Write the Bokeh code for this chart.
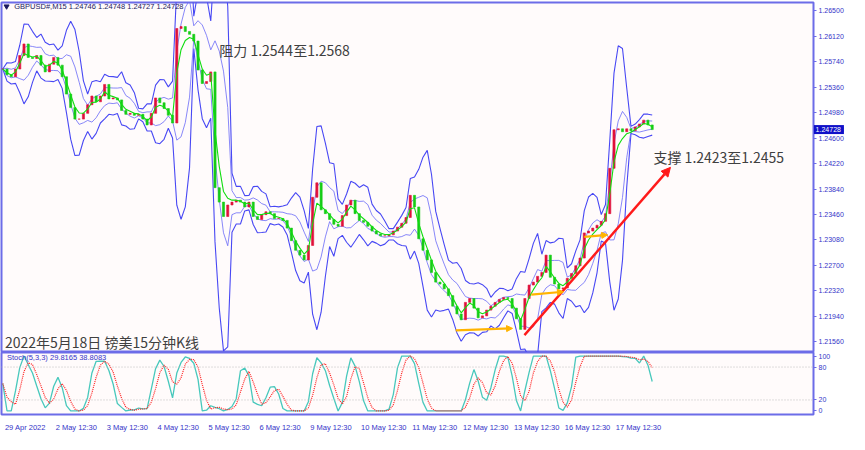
import numpy as np
import pandas as pd
from bokeh.plotting import figure
from bokeh.layouts import column
from bokeh.models import (Range1d, FixedTicker, PrintfTickFormatter, Label, Span,
                          Arrow, NormalHead, ColumnDataSource)
from bokeh.core.properties import value
from bokeh.embed import file_html
from bokeh.resources import INLINE

# ---------------- data (~2h steps) ----------------
CLOSE = [
    1.25632, 1.25546, 1.25517, 1.25632, 1.25834, 1.26006, 1.25805, 1.25790, 1.25834, 1.25690,
    1.25589, 1.25704, 1.25805, 1.25690, 1.25517, 1.25258, 1.25056, 1.24884, 1.24884, 1.24970,
    1.25099, 1.25229, 1.25143, 1.25229, 1.25402, 1.25186, 1.25200, 1.25171, 1.25013, 1.24955,
    1.24970, 1.24941, 1.24955, 1.24884, 1.24797, 1.24970, 1.25200, 1.25128, 1.25042, 1.24941,
    1.24826, 1.26237, 1.26265, 1.26193, 1.26150, 1.26049, 1.25618, 1.25416, 1.25445, 1.25589,
    1.23861, 1.23645, 1.23430, 1.23602, 1.23645, 1.23674, 1.23645, 1.23573, 1.23645, 1.23430,
    1.23386, 1.23458, 1.23501, 1.23473, 1.23401, 1.23401, 1.23372, 1.23257, 1.23070, 1.22926,
    1.22854, 1.22782, 1.22998, 1.23717, 1.23933, 1.23530, 1.23473, 1.23386, 1.23314, 1.23285,
    1.23444, 1.23602, 1.23674, 1.23473, 1.23372, 1.23343, 1.23285, 1.23213, 1.23170, 1.23142,
    1.23142, 1.23156, 1.23213, 1.23271, 1.23329, 1.23415, 1.23746, 1.23573, 1.23098, 1.22926,
    1.22782, 1.22595, 1.22451, 1.22422, 1.22350, 1.22249, 1.22091, 1.21976, 1.21889, 1.22148,
    1.22206, 1.22062, 1.21918, 1.21947, 1.22033, 1.22091, 1.22148, 1.22192, 1.22220, 1.22206,
    1.22062, 1.21904, 1.21745, 1.22206, 1.22407, 1.22451, 1.22537, 1.22595, 1.22854, 1.22523,
    1.22422, 1.22350, 1.22364, 1.22508, 1.22580, 1.22695, 1.22810, 1.23185, 1.23213, 1.23257,
    1.23300, 1.23358, 1.23473, 1.24149, 1.24725, 1.24739, 1.24696, 1.24739, 1.24710, 1.24768,
    1.24811, 1.24869, 1.24797, 1.24728,
]

PRICE_TICKS = [1.21560, 1.21940, 1.22320, 1.22700, 1.23080, 1.23460, 1.23840,
               1.24220, 1.24600, 1.24980, 1.25360, 1.25740, 1.26120, 1.26500]
DATE_TICKS = [0, 12, 24, 36, 48, 60, 72, 84, 96, 108, 120, 132, 144]
DATE_LABELS = ["29 Apr 2022", "2 May 12:30", "3 May 12:30", "4 May 12:30", "5 May 12:30",
               "6 May 12:30", "9 May 12:30", "10 May 12:30", "11 May 12:30", "12 May 12:30",
               "13 May 12:30", "16 May 12:30", "17 May 12:30"]
STOCH_TICKS = [0, 20, 80, 100]
LAST_PRICE = 1.24728
HEADER = "GBPUSD#,M15  1.24746 1.24748 1.24727 1.24728"
STOCH_TEXT = "Stoch(5,3,3) 29.8165 38.8083"

# ---------------- derived series ----------------
close = np.array(CLOSE)
n = len(close)
idx = np.arange(n)
opens = np.r_[close[0], close[:-1]]
s = pd.Series(close)
mid = s.rolling(5, min_periods=1).mean()
sd = s.rolling(5, min_periods=1).std(ddof=0).fillna(0)
up_out, lo_out = mid + 3.2 * sd, mid - 3.2 * sd
up_in, lo_in = mid + 1.3 * sd, mid - 1.3 * sd
ma = s.ewm(span=3).mean()

lo_k = s.rolling(5, min_periods=1).min()
hi_k = s.rolling(5, min_periods=1).max()
num = (s - lo_k).rolling(3, min_periods=1).sum()
den = (hi_k - lo_k).rolling(3, min_periods=1).sum().replace(0, np.nan)
k = (100 * num / den).fillna(50)
d = k.rolling(3, min_periods=1).mean()

up = close >= opens
src = ColumnDataSource(dict(
    x=idx, top=np.maximum(opens, close), bottom=np.minimum(opens, close),
    color=np.where(up, "#e0103a", "#16cc16"),
))

BG = "#fffbfb"
FRAME = "#6c6ce8"
TXT = "#3434c8"
FONT = "Liberation Sans"
PX_PER_UNIT = 812 / 191.3

xr = Range1d(-0.3, 191.0)

# ---------------- main price panel ----------------
p1 = figure(width=849, height=352, x_range=xr, y_range=Range1d(1.2140, 1.26625),
            y_axis_location="right", x_axis_location=None, toolbar_location=None,
            output_backend="svg", min_border_left=1, min_border_right=36,
            min_border_top=2, min_border_bottom=0, background_fill_color=BG,
            border_fill_color="white", outline_line_color=FRAME, outline_line_width=2)
p1.grid.visible = False
ya = p1.yaxis[0]
ya.ticker = FixedTicker(ticks=PRICE_TICKS + [LAST_PRICE])
ya.formatter = PrintfTickFormatter(format="%.5f")
ya.axis_line_color = None
ya.major_tick_line_color = FRAME
ya.major_tick_out = 3
ya.major_tick_in = 0
ya.minor_tick_line_color = None
ya.major_label_text_font = FONT
ya.major_label_text_font_size = "7px"
ya.major_label_text_color = TXT
ya.major_label_standoff = 2

p1.line(idx, up_out, color="#4848f4", line_width=1.1)
p1.line(idx, lo_out, color="#4848f4", line_width=1.1)
p1.line(idx, up_in, color="#6a6af8", line_width=0.8)
p1.line(idx, lo_in, color="#6a6af8", line_width=0.8)
p1.vbar(x="x", top="top", bottom="bottom", width=0.5, fill_color="color",
        line_color="color", line_width=0.6, source=src)
p1.line(idx, ma, color="#10dd10", line_width=1.1)

p1.scatter([0.9], [1.26567], marker="inverted_triangle", size=5, color="#1a1a60")
p1.add_layout(Label(x=2.7, y=1.26567, text=HEADER, text_baseline="middle",
                    text_font=FONT, text_font_size="7.5px", text_color="#1a1a60"))

ann_font = "Noto Sans CJK SC"
p1.add_layout(Label(x=51.0, y=1.25920, text="阻力 1.2544至1.2568", text_baseline="middle",
                    text_font=ann_font, text_font_size="14px", text_color="#404040"))
p1.add_layout(Label(x=153.3, y=1.24322, text="支撑 1.2423至1.2455", text_baseline="middle",
                    text_font=ann_font, text_font_size="14px", text_color="#404040"))
p1.add_layout(Label(x=0.5, y=1.21560, text="2022年5月18日 镑美15分钟K线", text_baseline="middle",
                    text_font=ann_font, text_font_size="14px", text_color="#404040"))

p1.add_layout(Arrow(end=NormalHead(size=9, fill_color="#ff1a1a", line_color="#ff1a1a"),
                    x_start=122.9, y_start=1.21659, x_end=157.3, y_end=1.24164,
                    line_color="#ff1a1a", line_width=2.4))
for xs, ys, xe, ye in [(106.7, 1.21731, 120.1, 1.21760),
                       (124.5, 1.22263, 132.1, 1.22307),
                       (137.0, 1.23127, 142.5, 1.23156)]:
    p1.add_layout(Arrow(end=NormalHead(size=6, fill_color="#ffb400", line_color="#ffb400"),
                        x_start=xs, y_start=ys, x_end=xe, y_end=ye,
                        line_color="#ffb400", line_width=2.2))

# current-price box on the price scale
box_w = 30 / PX_PER_UNIT
p1.rect(x=[191.0 + box_w / 2 + 0.1], y=[LAST_PRICE], width=box_w, height=9,
        height_units="screen", fill_color="#1010c8", line_color=None, level="overlay")
p1.text(x=[191.0 + 0.5], y=[LAST_PRICE], text=[f"{LAST_PRICE:.5f}"], text_align="left",
        text_baseline="middle", text_font=value(FONT), text_font_size="7px",
        text_color="white", level="overlay")

# ---------------- stochastic panel ----------------
p2 = figure(width=849, height=82, x_range=xr, y_range=Range1d(-6.5, 106.5),
            y_axis_location="right", toolbar_location=None, output_backend="svg",
            min_border_left=1, min_border_right=36, min_border_top=0, min_border_bottom=14,
            background_fill_color=BG, border_fill_color="white",
            outline_line_color=FRAME, outline_line_width=2)
p2.grid.visible = False
y2 = p2.yaxis[0]
y2.ticker = FixedTicker(ticks=STOCH_TICKS)
y2.axis_line_color = None
y2.major_tick_line_color = FRAME
y2.major_tick_out = 3
y2.major_tick_in = 0
y2.minor_tick_line_color = None
y2.major_label_text_font = FONT
y2.major_label_text_font_size = "7px"
y2.major_label_text_color = TXT
y2.major_label_standoff = 2

# date labels start just right of each day mark, as in the reference
label_pos = [round(t + (3.75 * len(lab) / 2 + 2) / PX_PER_UNIT, 3)
             for t, lab in zip(DATE_TICKS, DATE_LABELS)]
x2 = p2.xaxis[0]
x2.ticker = FixedTicker(ticks=label_pos)
x2.major_label_overrides = {pos: lab for pos, lab in zip(label_pos, DATE_LABELS)}
x2.axis_line_color = None
x2.major_tick_line_color = None
x2.minor_tick_line_color = None
x2.major_label_text_font = FONT
x2.major_label_text_font_size = "7.5px"
x2.major_label_text_color = TXT
x2.major_label_standoff = 2

for lvl in (20, 80):
    p2.add_layout(Span(location=lvl, dimension="width", line_color="#bdbdbd",
                       line_dash="1 2", line_width=1))

p2.line(idx, k, color="#48c8bc", line_width=1.3)
p2.line(idx, d, color="#ff2020", line_width=1.2, line_dash="1 1")

p2.add_layout(Label(x=1.0, y=98, text=STOCH_TEXT, text_baseline="middle",
                    text_font=FONT, text_font_size="7.5px", text_color=TXT))

layout = column(p1, p2, spacing=0)
open("out.html", "w").write(file_html(layout, INLINE))
